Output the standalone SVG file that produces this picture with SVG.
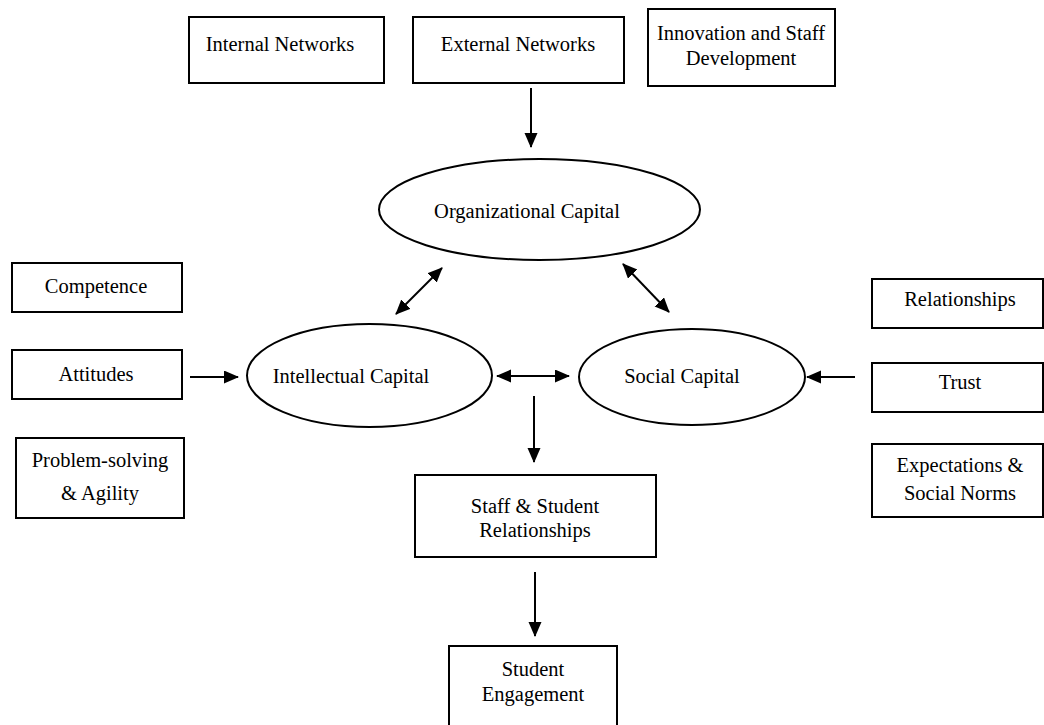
<svg xmlns="http://www.w3.org/2000/svg" width="1044" height="725" viewBox="0 0 1044 725" font-family="Liberation Serif, Times New Roman, Times, serif">
<defs>
<style>
.box{fill:#fff;stroke:#000;stroke-width:2}
.ell{fill:#fff;stroke:#000;stroke-width:2}
.t{font-family:'Liberation Serif','Times New Roman',Times,serif;font-size:20.5px;fill:#000;text-anchor:middle}
.c{stroke:#000;stroke-width:2;fill:none}
.one{marker-end:url(#ah)}
.two{marker-start:url(#ah);marker-end:url(#ah)}
</style>
<marker id="ah" markerUnits="userSpaceOnUse" markerWidth="16" markerHeight="14" refX="14" refY="6.5" orient="auto-start-reverse">
<path d="M0,0 L15,6.5 L0,13 z" fill="#000"/>
</marker>
</defs>
<rect width="1044" height="725" fill="#fff"/>
<g id="connectors">
<line class="c one" x1="531" y1="88" x2="531" y2="147"/>
<line class="c two" x1="442" y1="268" x2="396" y2="314"/>
<line class="c two" x1="623" y1="264" x2="669" y2="312"/>
<line class="c one" x1="190" y1="377" x2="238" y2="377"/>
<line class="c two" x1="497" y1="376" x2="569" y2="376"/>
<line class="c one" x1="855" y1="377" x2="807" y2="377"/>
<line class="c one" x1="534" y1="396" x2="534" y2="462"/>
<line class="c one" x1="535" y1="572" x2="535" y2="636"/>
</g>
<g id="internal-networks"><rect class="box" x="189" y="17" width="195" height="66"/><text class="t" x="280" y="51">Internal Networks</text></g>
<g id="external-networks"><rect class="box" x="413" y="17" width="211" height="66"/><text class="t" x="518" y="51">External Networks</text></g>
<g id="innovation"><rect class="box" x="648" y="9" width="187" height="77"/><text class="t" x="741" y="40">Innovation and Staff</text><text class="t" x="741" y="65">Development</text></g>
<g id="organizational-capital"><ellipse class="ell" cx="539.5" cy="209.5" rx="160.5" ry="50.5"/><text class="t" x="527" y="218">Organizational Capital</text></g>
<g id="competence"><rect class="box" x="12" y="263" width="170" height="49"/><text class="t" x="96" y="293">Competence</text></g>
<g id="attitudes"><rect class="box" x="12" y="350" width="170" height="49"/><text class="t" x="96" y="381">Attitudes</text></g>
<g id="problem-solving"><rect class="box" x="16" y="438" width="168" height="80"/><text class="t" x="100" y="467">Problem-solving</text><text class="t" x="100" y="500">&amp; Agility</text></g>
<g id="intellectual-capital"><ellipse class="ell" cx="369.5" cy="375.5" rx="122.5" ry="51.5"/><text class="t" x="351" y="383">Intellectual Capital</text></g>
<g id="social-capital"><ellipse class="ell" cx="692" cy="377" rx="113" ry="48"/><text class="t" x="682" y="383">Social Capital</text></g>
<g id="relationships"><rect class="box" x="872" y="279" width="171" height="49"/><text class="t" x="960" y="306">Relationships</text></g>
<g id="trust"><rect class="box" x="872" y="363" width="171" height="49"/><text class="t" x="960" y="389">Trust</text></g>
<g id="expectations"><rect class="box" x="872" y="444" width="171" height="73"/><text class="t" x="960" y="472">Expectations &amp;</text><text class="t" x="960" y="500">Social Norms</text></g>
<g id="staff-student"><rect class="box" x="415" y="475" width="241" height="82"/><text class="t" x="535" y="513">Staff &amp; Student</text><text class="t" x="535" y="537">Relationships</text></g>
<g id="student-engagement"><rect class="box" x="449" y="646" width="168" height="100"/><text class="t" x="533" y="676">Student</text><text class="t" x="533" y="701">Engagement</text></g>
</svg>
